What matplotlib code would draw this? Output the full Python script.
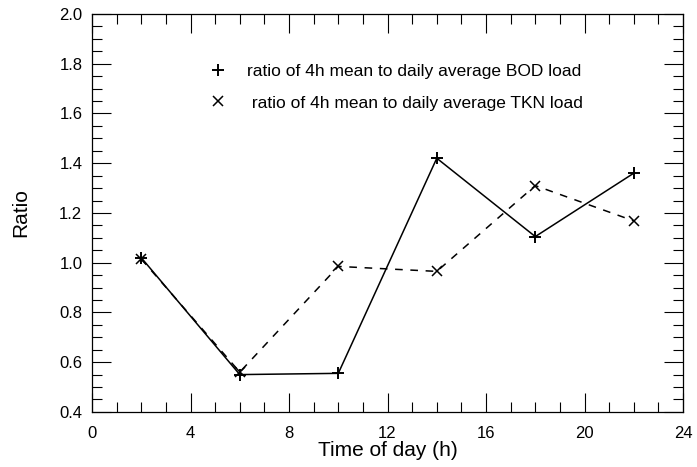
import numpy as np
import matplotlib.pyplot as plt
from matplotlib.ticker import MultipleLocator

plt.rcParams['font.family'] = ['Liberation Sans', 'DejaVu Sans']

# 4h interval midpoints
hours = [2, 6, 10, 14, 18, 22]
# ratio of 4h mean to daily average load
bod_ratio = [1.02, 0.55, 0.555, 1.42, 1.105, 1.36]
tkn_ratio = [1.015, 0.56, 0.985, 0.965, 1.31, 1.168]

fig = plt.figure(figsize=(6.97, 4.67), dpi=100)
ax = fig.add_axes([0.132, 0.118, 0.848, 0.852])

ax.plot(hours, bod_ratio, color='black', linestyle='-', linewidth=1.1,
        marker='+', markersize=9, markeredgewidth=1.4,
        label='ratio of 4h mean to daily average BOD load')
ax.plot(hours, tkn_ratio, color='black', linestyle=(0, (5, 5)), linewidth=1.1,
        marker='x', markersize=7.5, markeredgewidth=1.1,
        label=' ratio of 4h mean to daily average TKN load')

ax.set_xlim(0, 24)
ax.set_ylim(0.4, 2.0)
ax.xaxis.set_major_locator(MultipleLocator(4))
ax.xaxis.set_minor_locator(MultipleLocator(1))
ax.yaxis.set_major_locator(MultipleLocator(0.2))
ax.yaxis.set_minor_locator(MultipleLocator(0.05))
ax.yaxis.set_major_formatter(plt.FuncFormatter(lambda v, p: f'{v:.1f}'))

ax.tick_params(which='both', direction='in', top=True, right=True,
               labelsize=12, width=0.8)
ax.tick_params(which='major', length=14)
ax.tick_params(axis='x', which='major', pad=10)
ax.tick_params(axis='y', which='major', pad=7)
ax.tick_params(which='minor', length=7)
for s in ax.spines.values():
    s.set_linewidth(0.9)

ax.set_xlabel('Time of day (h)', fontsize=15, labelpad=0)
ax.set_ylabel('Ratio', fontsize=15, labelpad=21)

ax.legend(loc='upper left', bbox_to_anchor=(0.196, 0.875), frameon=False,
          borderpad=0, borderaxespad=0,
          handlelength=1.2, handletextpad=1.05, fontsize=12.5, labelspacing=0.95,
          numpoints=1)
leg = ax.get_legend()
for h in leg.legend_handles:
    h.set_linestyle('none')

fig.savefig('out.png', dpi=100)
